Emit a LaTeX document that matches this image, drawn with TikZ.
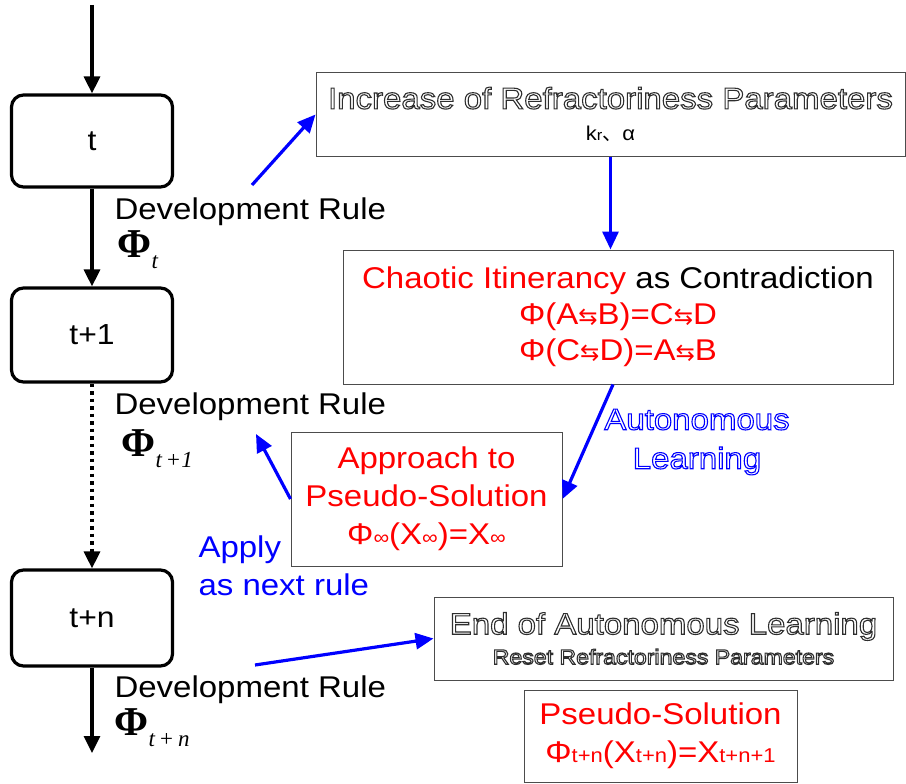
\documentclass[tikz,border=0pt]{standalone}
\usepackage{fontspec}
\setmainfont{Liberation Sans}[FakeStretch=1.1]
\newfontfamily\phifont{Liberation Serif}
\newfontfamily\arrowfont{DejaVu Sans}
\newfontfamily\cjkfont{Noto Sans CJK JP}
\usepackage{tikz}
\usetikzlibrary{arrows.meta, positioning}
\definecolor{hollowgrey}{HTML}{2E2E2E}
\definecolor{learnblue}{HTML}{0000FF}
\definecolor{chaosred}{HTML}{FF0000}
\newcommand\hollow[1]{\special{pdf:literal direct 1 Tr 1.1 w}#1\special{pdf:literal direct 0 Tr}}
\newcommand\swap{{\arrowfont\fontsize{23}{23}\selectfont ⇆}}
\newcommand\phirule[1]{{\phifont\bfseries\fontsize{41}{41}\selectfont Φ}\raisebox{-11pt}{\phifont\itshape\fontsize{23}{23}\selectfont #1}}
\newcommand\lowsub[1]{{\fontsize{20}{20}\selectfont #1}}

\begin{document}
\begin{tikzpicture}[x=1pt, y=-1pt,
    stage/.style={draw, line width=3.2pt, rounded corners=12pt, minimum width=161,
      font=\fontsize{29}{34}\selectfont},
    panel/.style={draw=black!70, line width=1pt, align=center, inner sep=0pt,
      font=\fontsize{30}{40}\selectfont},
    rulelbl/.style={anchor=west, font=\fontsize{30}{36}\selectfont},
    flow/.style={line width=3.2pt, -{Triangle[length=17pt,width=16pt]}},
    link/.style={learnblue, line width=3.2pt, -{Triangle[length=18pt,width=16pt]}}]
  \useasboundingbox (0,0) rectangle (906,784);

  % time steps
  \node[stage, minimum height=92] (t) at (92,141) {t};
  \node[stage, minimum height=94] (t1) at (92,335) {t+1};
  \node[stage, minimum height=96] (tn) at (92,618) {t+n};
  \coordinate (entry) at (92,5);
  \coordinate (exit) at (92,753);
  \draw[flow] (entry) -- (t);
  \draw[flow] (t) -- (t1);
  \draw[flow, dash pattern=on 3.5pt off 4pt] (t1) -- (tn);
  \draw[flow] (tn) -- (exit);

  % development rules
  \node[rulelbl] (rule0) at (111,212) {Development Rule};
  \node[anchor=west] (phi0) at (114,250) {\phirule{t}};
  \node[rulelbl] (rule1) at (111,407) {Development Rule};
  \node[anchor=west] (phi1) at (118,449) {\phirule{t\,+1}};
  \node[rulelbl] (rulen) at (111,690) {Development Rule};
  \node[anchor=west] (phin) at (111,728) {\phirule{t\,+\,n}};

  % right panels
  \node[panel, minimum width=589, minimum height=83] (inc) at (610.5,114.5)
    {{\color{hollowgrey}\hollow{Increase of Refractoriness Parameters}}\\[-8pt]
     {\fontsize{20}{20}\selectfont k{\fontsize{15}{15}\selectfont r}{\cjkfont 、}α}};
  \node[panel, minimum width=550, minimum height=134] (chaos) at (618,317)
    {{\color{chaosred}Chaotic Itinerancy} as Contradiction\\[-4pt]
     {\color{chaosred}Φ(A\swap B)=C\swap D}\\[-4pt]
     {\color{chaosred}Φ(C\swap D)=A\swap B}};
  \node[panel, text=chaosred, minimum width=271, minimum height=134] (appr) at (426.5,499)
    {Approach to\\[-2pt] Pseudo-Solution\\[-2pt] Φ\lowsub{∞}(X\lowsub{∞})=X\lowsub{∞}};
  \node[panel, minimum width=459, minimum height=83] (endbox) at (663.5,638.5)
    {{\color{hollowgrey}\hollow{End of Autonomous Learning}}\\[-10pt]
     {\fontsize{21}{21}\selectfont\color{hollowgrey}\hollow{Reset Refractoriness Parameters}}};
  \node[panel, text=chaosred, minimum width=273, minimum height=92] (pseudo) at (660.5,736)
    {Pseudo-Solution\\[-2pt] Φ\lowsub{t+n}(X\lowsub{t+n})=X\lowsub{t+n+1}};

  % learning labels
  \node[text=learnblue, align=center, font=\fontsize{30}{39}\selectfont] (auto) at (697,442)
    {\hollow{Autonomous}\\\hollow{Learning}};
  \node[text=learnblue, align=left, anchor=west, font=\fontsize{30}{38}\selectfont] (apply) at (195,566)
    {Apply\\as next rule};

  % blue connectors
  \coordinate (incfrom) at (252,185);
  \coordinate (ruletip) at (256,434);
  \coordinate (endfrom) at (255,665);
  \draw[link] (incfrom) -- (inc.west);
  \draw[link] (inc.south) -- (inc.south |- chaos.north);
  \draw[link] ([xshift=-5pt]chaos.south) -- (appr.east);
  \draw[link] (appr.west) -- (ruletip);
  \draw[link] (endfrom) -- (endbox.west);
\end{tikzpicture}
\end{document}
